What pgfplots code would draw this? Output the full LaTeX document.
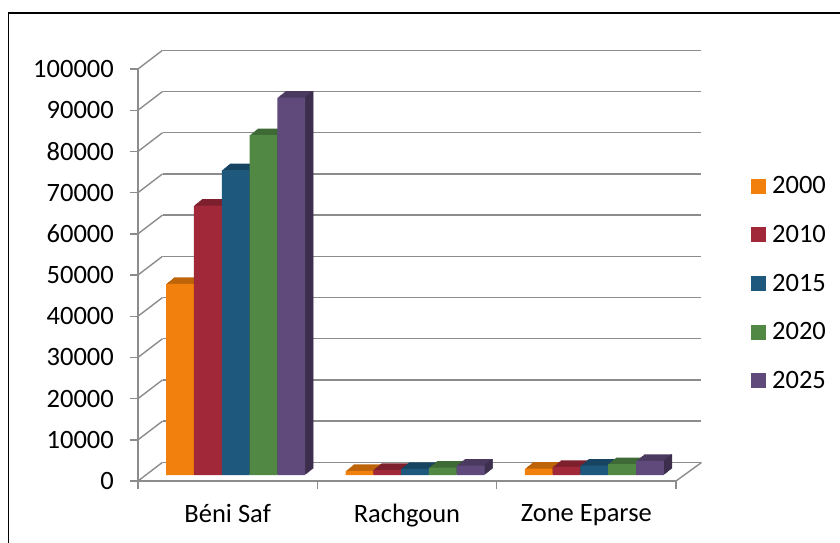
\documentclass[border=0pt]{standalone}
\usepackage{pgfplots}
\pgfplotsset{compat=1.18}
\usepackage{pgfplotstable}
\usepackage{fontspec}
\setmainfont{Carlito}
\definecolor{cA}{RGB}{242,128,12}
\definecolor{cB}{RGB}{160,40,56}
\definecolor{cC}{RGB}{30,88,124}
\definecolor{cD}{RGB}{80,136,68}
\definecolor{cE}{RGB}{96,74,123}
\definecolor{gridc}{RGB}{140,140,140}
\newcommand{\chartfont}{\fontsize{26.5}{31}\selectfont}

\pgfplotstableread{
x a b c d e
0 46400 65400 74000 82500 91600
1 1000 1250 1500 1800 2300
2 1550 1950 2250 2650 3400
}\barsdata

% #1 column, #2 bar shift (pt number), #3 colour
\newcommand{\barseries}[3]{%
  \pgfplotsinvokeforeach{1,2,3,4,5,6,7,8}{%
    \addplot[forget plot, ybar, bar width=27.8pt, bar shift={#2pt}, fill=#3!78!black, draw=none,
      xshift={##1*1pt}, yshift={0.8125*##1*1pt}] table[x=x,y=#1]{\barsdata};
  }%
  \pgfplotsinvokeforeach{1,2,3,4,5,6,7,8}{%
    \addplot[forget plot, ybar, bar width=1.4pt, bar shift={#2pt+13.9pt+##1pt-0.5pt}, fill=#3!62!black, draw=none,
      yshift={0.8125*##1*1pt}] table[x=x,y=#1]{\barsdata};
  }%
  \addplot[ybar, bar width=27.8pt, bar shift={#2pt}, fill=#3, draw=none,
    legend image code/.code={\fill[#3] (0pt,-7.5pt) rectangle (15pt,7.5pt);}] table[x=x,y=#1]{\barsdata};
}

\begin{document}
\begin{tikzpicture}
\useasboundingbox (0pt,0pt) rectangle (840pt,542pt);
\draw[black, line width=1.5pt] (8.5pt,-2pt) -- (8.5pt,529pt) -- (842pt,529pt);

% back wall grid
\begin{axis}[
  at={(162.5pt,79.7pt)}, anchor=south west,
  scale only axis, width=538pt, height=412pt,
  xmin=-0.5, xmax=2.5, ymin=0, ymax=100000,
  xtick=\empty, ytick={0,10000,20000,30000,40000,50000,60000,70000,80000,90000,100000}, yticklabels={},
  scaled y ticks=false,
  major tick length=0pt,
  axis line style={draw=none},
  ymajorgrids, grid style={draw=gridc, line width=1.4pt},
]
\end{axis}

% front axis
\begin{axis}[
  at={(138pt,61pt)}, anchor=south west,
  scale only axis, width=538pt, height=412pt,
  xmin=-0.5, xmax=2.5, ymin=0, ymax=100000,
  axis x line*=bottom, axis y line*=left,
  axis line style={draw=gridc, line width=1.4pt},
  tick style={draw=gridc, line width=1.4pt},
  tick align=outside, major tick length=8pt,
  ytick={0,10000,20000,30000,40000,50000,60000,70000,80000,90000,100000},
  scaled y ticks=false,
  yticklabel style={/pgf/number format/fixed, /pgf/number format/1000 sep={}, /pgf/number format/assume math mode=true, inner sep=0pt, xshift=-16pt},
  xtick={-0.5,0.5,1.5,2.5}, xticklabels={},
  extra x ticks={0,1,2},
  extra x tick labels={Béni Saf,Rachgoun,Zone Eparse},
  extra x tick style={major tick length=0pt},
  xticklabel style={inner sep=0pt, yshift=-23pt},
  tick label style={font=\chartfont, text=black},
  clip=false,
]
\pgfplotsinvokeforeach{0,10000,20000,30000,40000,50000,60000,70000,80000,90000,100000}{\draw[gridc, line width=1.4pt] (axis cs:-0.5,#1) -- ++(24.5pt,18.7pt);}
\draw[gridc, line width=1.4pt] (axis cs:2.5,0) -- ++(25.5pt,18.5pt);
\end{axis}

% bars
\begin{axis}[
  at={(146pt,67pt)}, anchor=south west,
  scale only axis, width=538pt, height=412pt,
  xmin=-0.5, xmax=2.5, ymin=0, ymax=100000,
  hide axis, clip=false,
  legend entries={2000,2010,2015,2020,2025},
  legend cell align=left,
  legend style={at={(1.1245,0.4650)}, anchor=west, draw=none, fill=none, inner sep=0pt,
    row sep=30pt, column sep=6pt, font=\chartfont, nodes={inner sep=0pt}},
]
\barseries{a}{-55.6}{cA}
\barseries{b}{-27.8}{cB}
\barseries{c}{0}{cC}
\barseries{d}{27.8}{cD}
\barseries{e}{55.6}{cE}
\end{axis}
\end{tikzpicture}
\end{document}
